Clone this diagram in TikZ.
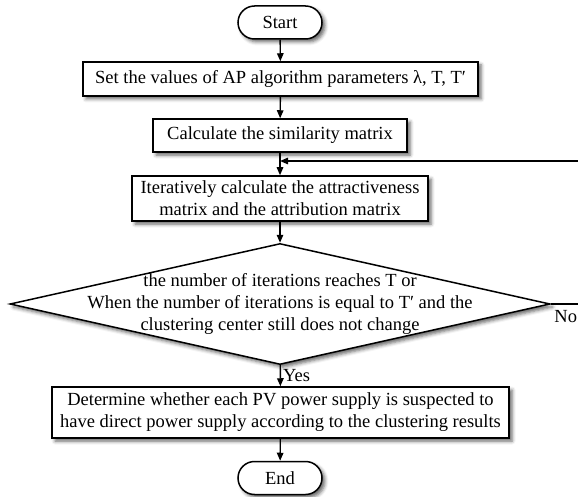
\documentclass[tikz,border=0pt]{standalone}
\usepackage{fontspec}
\setmainfont{Liberation Serif}
\usetikzlibrary{shapes.geometric, shapes.misc, arrows.meta, shadows.blur}

\begin{document}
\begin{tikzpicture}[x=1pt, y=-1pt,
    every node/.style={font=\fontsize{18.5}{22}\selectfont},
    boxshadow/.style={blur shadow={shadow xshift=3pt, shadow yshift=-3pt, shadow blur radius=3.5pt, shadow opacity=60}},
    process/.style={draw, line width=1.5pt, fill=white, align=center, inner sep=0pt, boxshadow},
    terminal/.style={draw, rounded rectangle, line width=1.5pt, fill=white, inner sep=0pt, minimum width=84pt, minimum height=33pt, boxshadow},
    decision/.style={draw, diamond, line width=1.5pt, fill=white, inner sep=0pt, minimum width=540pt, minimum height=121pt, boxshadow},
    flow/.style={-{Triangle[length=8pt, width=6.5pt]}, line width=1.4pt}]
                \useasboundingbox (0,0) rectangle (578,497);
                \clip (0,0) rectangle (578,497);
                % Nodes
                \node[terminal] (start) at (280,22.5) {Start};
                \node[process, minimum width=395pt, minimum height=34pt] (setpar) at (280.5,79) {Set the values of AP algorithm parameters λ, T, T′};
                \node[process, minimum width=254pt, minimum height=33pt] (simmat) at (280,135.5) {Calculate the similarity matrix};
                \node[process, minimum width=296pt, minimum height=45pt] (iter) at (280,198.5) {Iteratively calculate the attractiveness\\matrix and the attribution matrix};
                \node[decision] (dec) at (280,304) {};
                \node[align=center, inner sep=0pt] (cond) at (dec.center) {the number of iterations reaches T or\\When the number of iterations is equal to T′ and the\\clustering center still does not change};
                \node[process, minimum width=457pt, minimum height=51pt] (result) at (280.5,412.5) {Determine whether each PV power supply is suspected to\\have direct power supply according to the clustering results};
                \node[terminal] (end) at (280,478) {End};
                \coordinate (join) at (280,161);

                % Edges
                \draw[flow] (start) -- (setpar);
                \draw[flow] (setpar) -- (simmat);
                \draw[flow] (simmat) -- (iter);
                \draw[flow] (iter) -- (dec);
                \draw[flow] (dec) -- node[right, inner sep=2pt] {Yes} (result);
                \draw[flow] (result) -- (end);
                \draw[flow] (dec.east) -- node[pos=0, anchor=north west, inner sep=3pt, yshift=-3pt] {No} (590,304) |- (join);
            \end{tikzpicture}
\end{document}
